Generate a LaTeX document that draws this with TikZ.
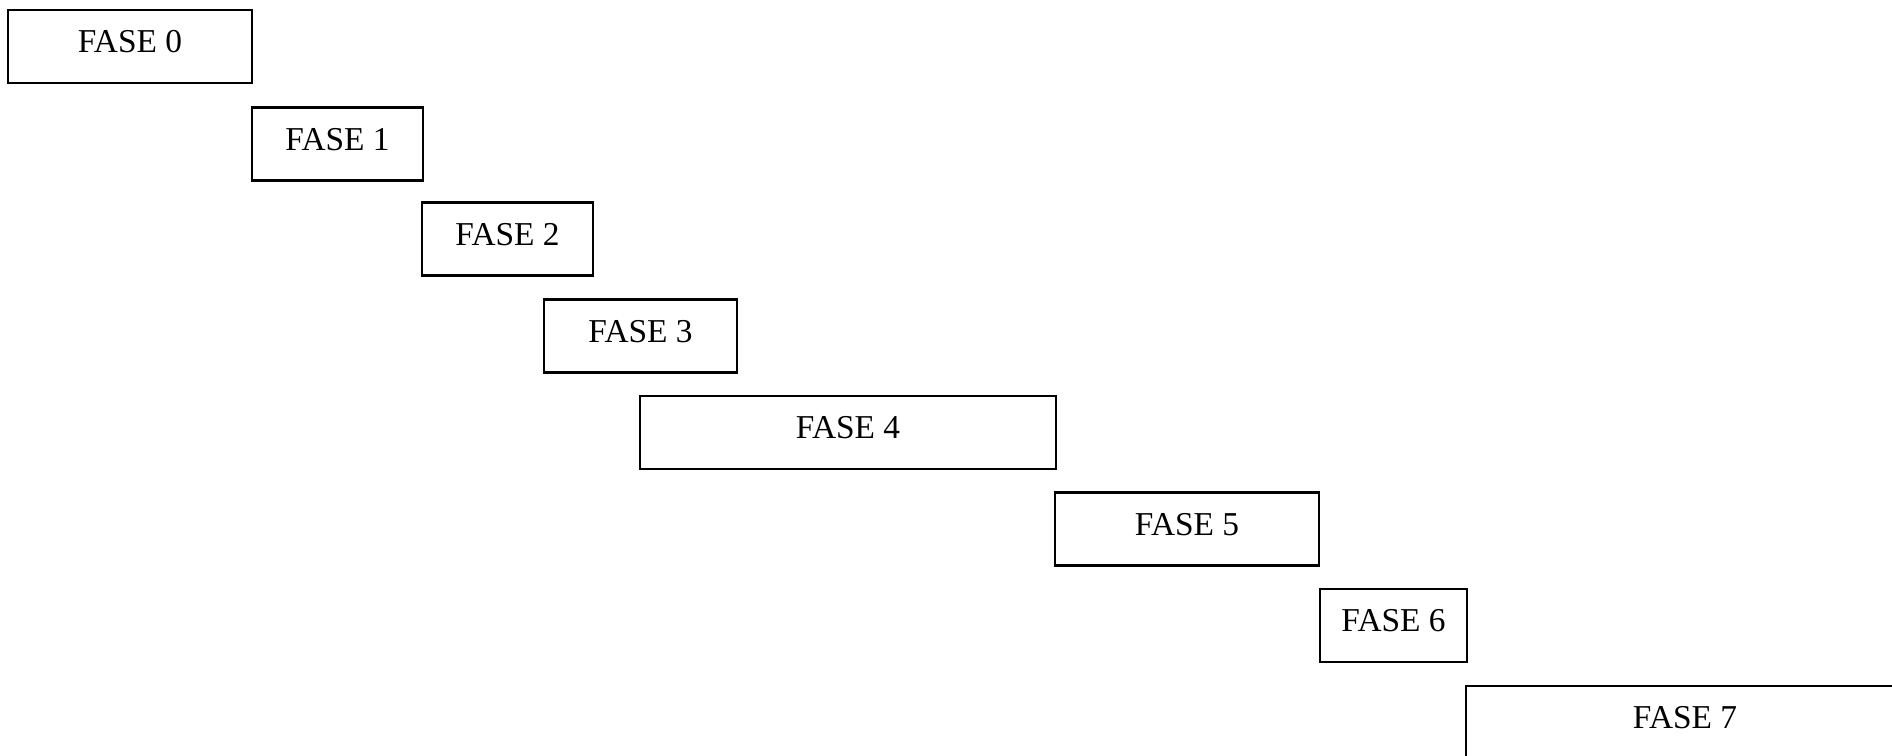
\documentclass[tikz,border=0pt]{standalone}
\usepackage{fontspec}
\setmainfont{Liberation Serif}
\usepackage{tikz}

\begin{document}
\begin{tikzpicture}[x = 0.02cm, y = -0.02cm,
	phase/.style = {draw, line width = 1.2pt, minimum height = 1.46cm, text depth = 0.2cm, font = \fontsize{19}{21}\selectfont}]
	\useasboundingbox (0,0) rectangle (1892,756);
	\clip (0,0) rectangle (1892,756);
	\node[phase, minimum width = 4.88cm] (f0) at (130, 46.5) {FASE 0}; %0
	\node[phase, minimum width = 3.42cm] (f1) at (337.5, 144) {FASE 1}; %1
	\node[phase, minimum width = 3.42cm] (f2) at (507.5, 239) {FASE 2}; %2
	\node[phase, minimum width = 3.86cm] (f3) at (640.5, 336) {FASE 3}; %3
	\node[phase, minimum width = 8.32cm] (f4) at (848, 432.5) {FASE 4}; %4
	\node[phase, minimum width = 5.28cm] (f5) at (1187, 529) {FASE 5}; %5
	\node[phase, minimum width = 2.94cm] (f6) at (1393.5, 625.5) {FASE 6}; %6
	\node[phase, minimum width = 8.76cm] (f7) at (1685, 722.5) {FASE 7}; %7
\end{tikzpicture}
\end{document}
